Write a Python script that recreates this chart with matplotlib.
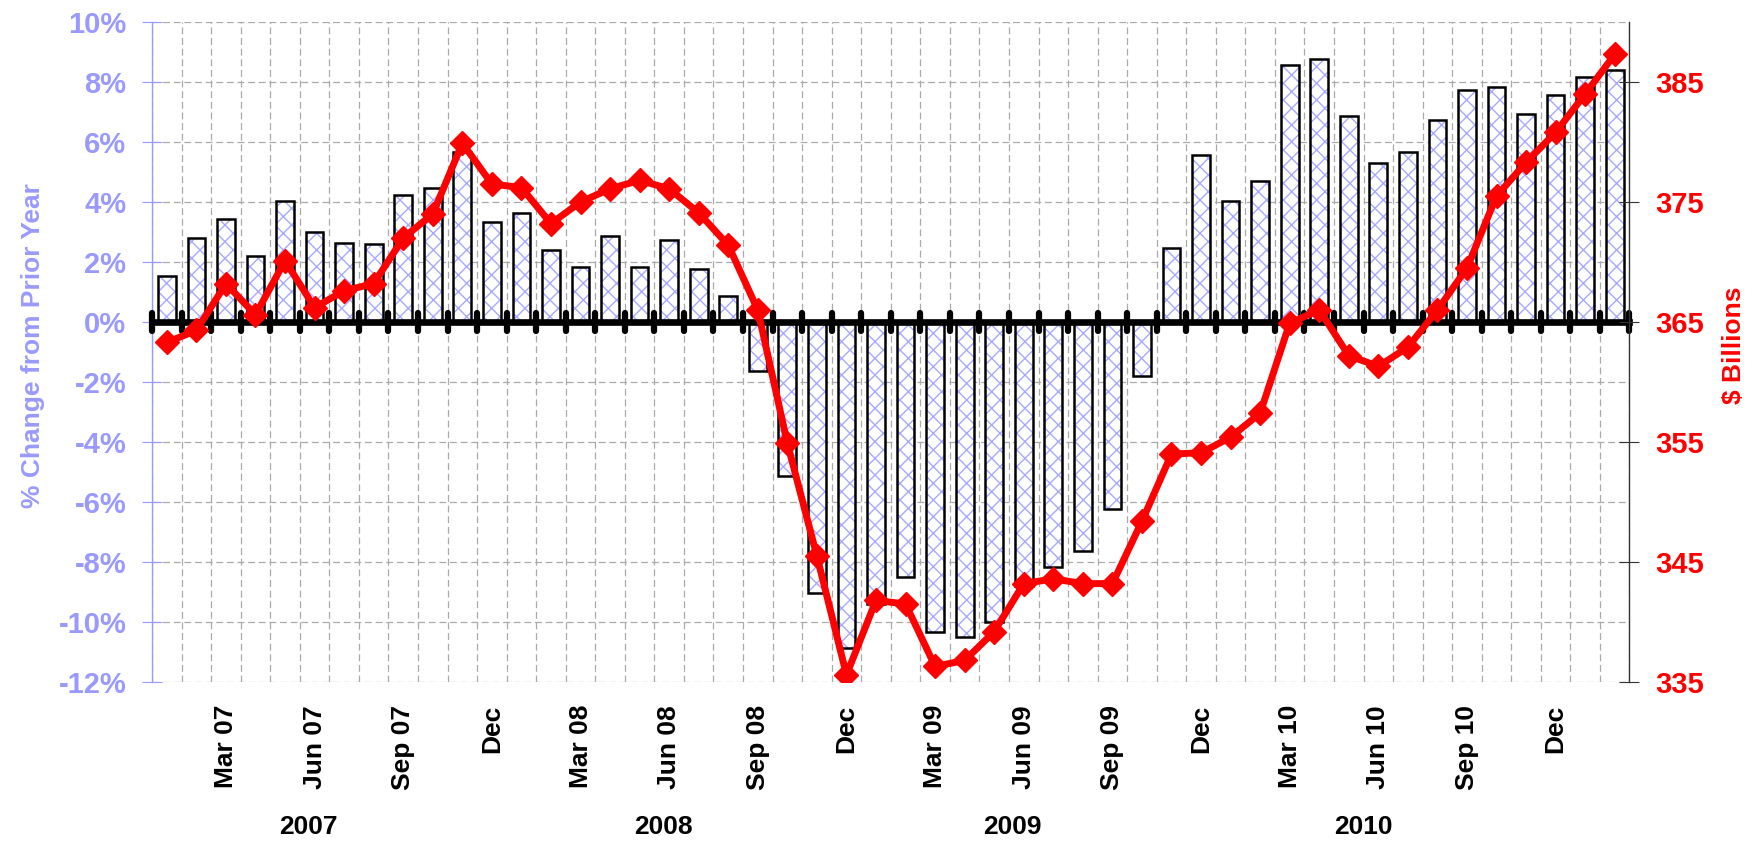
#%% import necessary modules
import numpy as np
import matplotlib
matplotlib.use("Agg")
from matplotlib import pyplot as plt
from matplotlib import transforms
from matplotlib.markers import MarkerStyle

#%% data (Jan 2007 - Feb 2011, monthly)
months = ["Jan 07", "Feb 07", "Mar 07", "Apr 07", "May 07", "Jun 07", "Jul 07", "Aug 07",
          "Sep 07", "Oct 07", "Nov 07", "Dec 07",
          "Jan 08", "Feb 08", "Mar 08", "Apr 08", "May 08", "Jun 08", "Jul 08", "Aug 08",
          "Sep 08", "Oct 08", "Nov 08", "Dec 08",
          "Jan 09", "Feb 09", "Mar 09", "Apr 09", "May 09", "Jun 09", "Jul 09", "Aug 09",
          "Sep 09", "Oct 09", "Nov 09", "Dec 09",
          "Jan 10", "Feb 10", "Mar 10", "Apr 10", "May 10", "Jun 10", "Jul 10", "Aug 10",
          "Sep 10", "Oct 10", "Nov 10", "Dec 10",
          "Jan 11", "Feb 11"]

# % change from prior year (bars, left axis)
pct_change = [1.52, 2.81, 3.44, 2.19, 4.02, 3.00, 2.63, 2.60, 4.24, 4.48, 5.68, 3.33,
              3.63, 2.39, 1.83, 2.86, 1.83, 2.74, 1.77, 0.86, -1.63, -5.13, -9.04, -10.87,
              -9.40, -8.51, -10.32, -10.49, -9.99, -8.80, -8.17, -7.62, -6.23, -1.80, 2.46, 5.56,
              4.02, 4.69, 8.58, 8.78, 6.87, 5.31, 5.67, 6.74, 7.74, 7.84, 6.94, 7.56,
              8.17, 8.41]

# $ billions (line, right axis)
billions = [363.3, 364.3, 368.2, 365.6, 370.1, 366.2, 367.6, 368.2, 372.0, 374.0, 379.9, 376.5,
            376.2, 373.2, 375.0, 376.1, 376.8, 376.1, 374.1, 371.4, 366.0, 354.9, 345.5, 335.6,
            341.8, 341.5, 336.3, 336.8, 339.2, 343.2, 343.6, 343.2, 343.2, 348.4, 354.0, 354.1,
            355.4, 357.4, 364.9, 366.0, 362.2, 361.3, 362.9, 366.0, 369.5, 375.5, 378.3, 380.8,
            384.0, 387.3]

month_labels = ["Mar 07", "Jun 07", "Sep 07", "Dec",
                "Mar 08", "Jun 08", "Sep 08", "Dec",
                "Mar 09", "Jun 09", "Sep 09", "Dec",
                "Mar 10", "Jun 10", "Sep 10", "Dec"]
month_label_idx = [months.index(m) for m in
                   ["Mar 07", "Jun 07", "Sep 07", "Dec 07", "Mar 08", "Jun 08", "Sep 08", "Dec 08",
                    "Mar 09", "Jun 09", "Sep 09", "Dec 09", "Mar 10", "Jun 10", "Sep 10", "Dec 10"]]
years = ["2007", "2008", "2009", "2010"]
year_pos = [4.8, 16.8, 28.6, 40.5]

#%% style
BLUE = "#9999FF"
HATCH = "#A8A8FF"
RED = "#FF0000"
plt.rcParams["font.family"] = ["Liberation Sans", "DejaVu Sans"]
plt.rcParams["font.weight"] = "bold"
plt.rcParams["hatch.linewidth"] = 1.0

x = np.arange(len(months))
edges = np.arange(len(months) + 1) - 0.5

fig = plt.figure(figsize=(17.58, 8.42), dpi=100)
ax = fig.add_axes([0.0865, 0.190, 0.8404, 0.7839])

# bars: hatch layer then black outline
ax.bar(x, pct_change, width=0.6, color="white", edgecolor=HATCH, hatch="xx", linewidth=0, zorder=2)
ax.bar(x, pct_change, width=0.6, color="none", edgecolor="black", linewidth=1.8, zorder=2.2)

ax.set_xlim(-0.5, len(months) - 0.5)
ax.set_ylim(-12, 10)
ax.set_yticks(np.arange(-12, 11, 2))
ax.set_yticklabels([f"{v}%" for v in range(-12, 11, 2)])
ax.set_xticks(edges)
ax.tick_params(axis="x", length=0, labelbottom=False)
ax.tick_params(axis="y", direction="inout", length=15, width=0.8, colors=BLUE,
               labelsize=21, pad=11)
ax.set_axisbelow(True)
ax.grid(True, color="#AAAAAA", linestyle=(0, (5.5, 3)), linewidth=0.9)

ax.spines["bottom"].set_position(("data", 0))
ax.spines["bottom"].set_linewidth(4.8)
ax.spines["bottom"].set_zorder(2.5)
ax.spines["left"].set_color(BLUE)
ax.spines["left"].set_linewidth(1.0)
ax.spines["top"].set_visible(False)
ax.spines["right"].set_visible(False)

# rounded tick marks on the zero line, one per month boundary
ax.plot(edges, np.zeros_like(edges), linestyle="none",
        marker=MarkerStyle("|", capstyle="round"), markersize=13, markeredgewidth=4.5,
        color="black", clip_on=False, zorder=2.6)

ax.set_ylabel("% Change from Prior Year", color=BLUE, fontsize=19, fontweight="bold")
ax.yaxis.set_label_coords(-0.0725, 0.51)

#%% line on right axis
ax2 = ax.twinx()
ax2.plot(x, billions, color=RED, linewidth=5, marker="D", markersize=12,
         markeredgewidth=1, markeredgecolor=RED, zorder=3)
ax2.set_ylim(335, 390)
ax2.set_yticks(np.arange(335, 386, 10))
ax2.tick_params(axis="y", direction="inout", length=15, width=0.8, color="#333333",
                labelcolor=RED, labelsize=21, pad=11)
for s in ["left", "top", "bottom"]:
    ax2.spines[s].set_visible(False)
ax2.spines["right"].set_color("#333333")
ax2.spines["right"].set_linewidth(1.0)
ax2.set_ylabel("$ Billions", color=RED, fontsize=19, fontweight="bold")
ax2.yaxis.set_label_coords(1.0625, 0.51)

#%% month / year labels under the plot
trans = transforms.blended_transform_factory(ax.transData, fig.transFigure)
for i, lab in zip(month_label_idx, month_labels):
    ax.text(i, 1 - 705 / 842, lab, transform=trans, rotation=90, ha="center", va="top",
            fontsize=19, fontweight="bold", color="black")
for p, yr in zip(year_pos, years):
    ax.text(p, 1 - 827 / 842, yr, transform=trans, ha="center", va="center",
            fontsize=19, fontweight="bold", color="black")

fig.savefig("out.png", dpi=100)
